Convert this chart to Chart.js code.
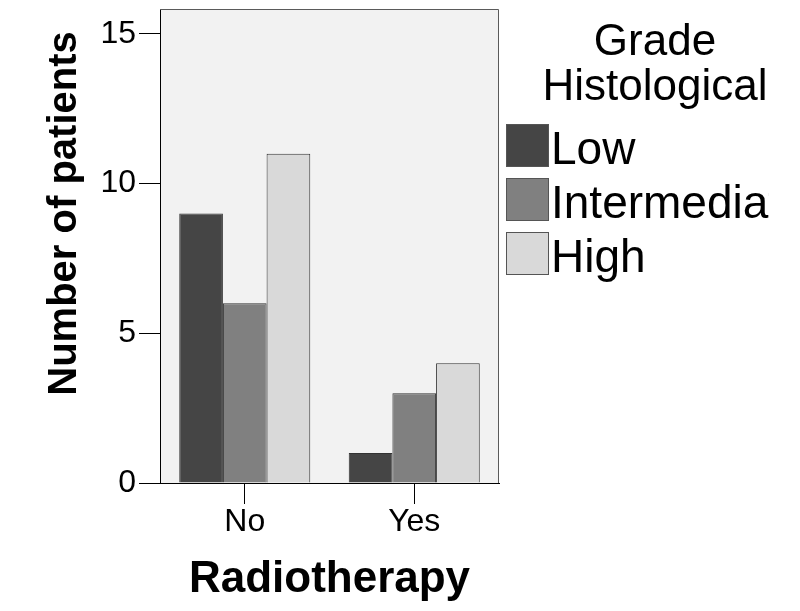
<!DOCTYPE html>
<html>
<head>
<meta charset="utf-8">
<script src="https://cdn.jsdelivr.net/npm/chart.js@4.4.1/dist/chart.umd.min.js"></script>
<style>
  html, body { margin: 0; padding: 0; background: #fff; }
  #wrap { position: relative; width: 800px; height: 611px; }
  #legend { position: absolute; left: 500px; top: 0; width: 269px; height: 300px; overflow: hidden;
            font-family: 'Liberation Sans', Arial, sans-serif; color: #000; }
  #legend .title { position: absolute; left: 0; top: 17px; width: 310px; text-align: center;
                   font-size: 44px; line-height: 45px; }
  #legend .item { position: absolute; left: 0; height: 54px; width: 400px; }
  #legend .box { position: absolute; left: 6px; top: 3px; width: 43px; height: 43px;
                 box-sizing: border-box; border: 1px solid #555; }
  #legend .label { position: absolute; left: 51px; top: 0; font-size: 46px; line-height: 54px; white-space: nowrap; }
</style>
</head>
<body>
<div id="wrap">
  <canvas id="chart" width="800" height="611"></canvas>
  <div id="legend"></div>
</div>
<script>
const categories = ['No', 'Yes'];
const lowValues = [9, 1];
const intermediateValues = [6, 3];
const highValues = [11, 4];
const gradeNames = ['Low', 'Intermediate', 'High'];
const legendTitle = ['Grade', 'Histological'];

Chart.defaults.font.family = "'Liberation Sans', Arial, sans-serif";
Chart.defaults.color = '#000';

// grey plot background and the thin top/right frame
const plotFrame = {
  id: 'plotFrame',
  beforeDraw(chart) {
    const {ctx, chartArea: a} = chart;
    ctx.save();
    ctx.fillStyle = '#f2f2f2';
    ctx.fillRect(a.left, a.top, a.right - a.left, a.bottom - a.top);
    ctx.restore();
  },
  afterDatasetsDraw(chart) {
    const {ctx, chartArea: a} = chart;
    ctx.save();
    ctx.strokeStyle = '#5a5a5a';
    ctx.lineWidth = 1;
    ctx.beginPath();
    ctx.moveTo(a.left, a.top + 0.5);
    ctx.lineTo(a.right - 0.5, a.top + 0.5);
    ctx.lineTo(a.right - 0.5, a.bottom);
    ctx.stroke();
    ctx.restore();
  }
};

const ctx = document.getElementById('chart').getContext('2d');
const chart = new Chart(ctx, {
  type: 'bar',
  data: {
    labels: categories,
    datasets: [
      { label: gradeNames[0], data: lowValues, backgroundColor: '#454545' },
      { label: gradeNames[1], data: intermediateValues, backgroundColor: '#808080' },
      { label: gradeNames[2], data: highValues, backgroundColor: '#d9d9d9' }
    ]
  },
  options: {
    responsive: false,
    animation: false,
    devicePixelRatio: 1,
    layout: { padding: { top: 9, right: 301, bottom: 0, left: 0 } },
    datasets: {
      bar: {
        categoryPercentage: 0.773,
        barPercentage: 1,
        borderColor: '#333',
        borderWidth: 1
      }
    },
    scales: {
      x: {
        offset: true,
        grid: {
          drawOnChartArea: false,
          offset: false,
          tickLength: 21,
          tickColor: '#000'
        },
        border: { color: '#000', width: 1 },
        ticks: { font: { size: 32, lineHeight: 1 }, padding: 2, color: '#000' },
        title: {
          display: true,
          text: 'Radiotherapy',
          font: { size: 44, weight: 'bold', lineHeight: 1.2 },
          padding: { top: 0, bottom: 5 }
        },
        afterFit(scale) {
          scale.height = 128;
          scale.paddingLeft = 0;
          scale.paddingRight = 0;
        }
      },
      y: {
        min: 0,
        max: 15.83,
        grid: {
          drawOnChartArea: false,
          tickLength: 21,
          tickColor: '#000'
        },
        border: { color: '#000', width: 1 },
        ticks: { stepSize: 5, includeBounds: false, font: { size: 32 }, padding: 3, color: '#000' },
        title: {
          display: true,
          align: 'end',
          text: 'Number of patients  ',
          font: { size: 40, weight: 'bold', lineHeight: 1.2 },
          padding: { top: 41, bottom: 0 }
        },
        afterFit(scale) {
          scale.width = 160;
          scale.paddingTop = 0;
          scale.paddingBottom = 0;
        }
      }
    },
    plugins: {
      legend: { display: false },
      tooltip: { enabled: false }
    }
  },
  plugins: [plotFrame]
});

// legend built from the chart's datasets
const legendEl = document.getElementById('legend');
const titleEl = document.createElement('div');
titleEl.className = 'title';
titleEl.innerHTML = legendTitle.join('<br>');
legendEl.appendChild(titleEl);
chart.data.datasets.forEach((ds, i) => {
  const item = document.createElement('div');
  item.className = 'item';
  item.style.top = (121 + i * 54) + 'px';
  const box = document.createElement('div');
  box.className = 'box';
  box.style.background = ds.backgroundColor;
  const label = document.createElement('div');
  label.className = 'label';
  label.textContent = ds.label;
  item.appendChild(box);
  item.appendChild(label);
  legendEl.appendChild(item);
});
</script>
</body>
</html>
